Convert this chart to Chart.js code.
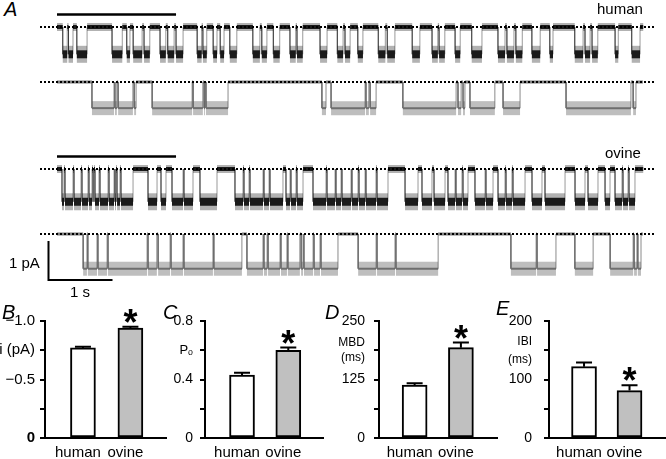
<!DOCTYPE html>
<html>
<head>
<meta charset="utf-8">
<title>Single-channel recordings: human vs ovine</title>
<script src="https://cdn.jsdelivr.net/npm/chart.js@4.4.1/dist/chart.umd.min.js"></script>
<style>
  html, body { margin:0; padding:0; background:#fff; }
  body { position:relative; width:666px; height:459px; overflow:hidden; font-family:'Liberation Sans', Arial, sans-serif; color:#000; }
  canvas { position:absolute; }
  .t { position:absolute; white-space:nowrap; font-size:15px; line-height:15px; }
  .p { position:absolute; font-style:italic; font-size:20px; line-height:20px; }
</style>
</head>
<body>
<canvas id="hSlow" width="616" height="70" style="left:40px;top:7px"></canvas>
<canvas id="hFast" width="616" height="70" style="left:40px;top:62px"></canvas>
<canvas id="oSlow" width="616" height="140" style="left:40px;top:149px"></canvas>
<canvas id="oFast" width="616" height="70" style="left:40px;top:214px"></canvas>
<canvas id="barB" width="170" height="159" style="left:0px;top:300px"></canvas>
<canvas id="barC" width="170" height="159" style="left:160px;top:300px"></canvas>
<canvas id="barD" width="170" height="159" style="left:330px;top:300px"></canvas>
<canvas id="barE" width="170" height="159" style="left:496px;top:300px"></canvas>

<div class="p" style="left:4px;top:-1px">A</div>
<div class="p" style="left:2px;top:302px">B</div>
<div class="p" style="left:163px;top:302px">C</div>
<div class="p" style="left:325px;top:302px">D</div>
<div class="p" style="left:496px;top:298px">E</div>
<div class="t" style="left:597px;top:1px">human</div>
<div class="t" style="left:605px;top:145px">ovine</div>
<div class="t" style="left:9px;top:255px">1 pA</div>
<div class="t" style="left:70px;top:284px">1 s</div>

<script>
// ---------------- DATA ----------------
const traceNames = ['human', 'ovine'];

// Open intervals [start, end] in seconds; channel closed elsewhere.
// Slow (compressed) traces, 9.16 s each
const slowDuration = 9.16;
const humanSlowOpen = [[0.09,0.16],[0.18,0.25],[0.31,0.47],[0.86,1.02],[1.09,1.14],[1.19,1.33],[1.36,1.45],
  [1.61,1.70],[1.73,1.83],[1.86,1.97],[2.19,2.26],[2.28,2.34],[2.44,2.50],[2.55,2.61],[2.70,2.81],
  [3.06,3.17],[3.20,3.28],[3.38,3.48],[3.64,3.73],[3.75,3.84],[4.11,4.22],[4.38,4.47],[4.50,4.58],
  [4.70,4.78],[5.02,5.13],[5.16,5.28],[5.55,5.67],[5.86,5.95],[5.97,6.06],[6.22,6.30],[6.48,6.64],
  [6.89,7.00],[7.03,7.14],[7.17,7.27],[7.42,7.55],[7.70,7.75],[8.09,8.22],[8.25,8.33],[8.36,8.45],
  [8.72,8.77],[8.98,9.11]];
const ovineSlowOpen = [[0.078,0.109],[0.125,0.25],[0.266,0.375],[0.391,0.484],[0.5,0.547],[0.563,0.578],
  [0.594,0.656],[0.672,0.797],[0.813,0.891],[0.906,0.922],[0.938,0.984],[1.0,1.188],[1.422,1.563],
  [1.625,1.703],[1.797,1.969],[1.984,2.125],[2.234,2.5],[2.781,2.906],[2.922,3.0],[3.016,3.219],
  [3.234,3.313],[3.328,3.531],[3.578,3.641],[3.656,3.734],[3.75,3.844],[4.0,4.203],[4.219,4.344],
  [4.359,4.438],[4.453,4.594],[4.609,4.703],[4.719,4.813],[4.828,4.984],[5.0,5.172],[5.438,5.641],
  [5.703,5.859],[5.891,6.063],[6.109,6.219],[6.234,6.328],[6.344,6.422],[6.531,6.688],[6.703,6.813],
  [6.891,7.0],[7.016,7.109],[7.125,7.313],[7.422,7.578],[7.625,7.938],[8.094,8.25],[8.297,8.453],
  [8.563,8.641],[8.719,8.828],[8.844,8.922],[8.938,9.031]];

// Fast (expanded) traces, 1.86 s each (the segment under the bar)
const fastDuration = 1.86;
const humanFastOpen = [[0.111,0.181],[0.184,0.190],[0.194,0.241],[0.245,0.251],[0.302,0.429],[0.432,0.463],
  [0.467,0.470],[0.473,0.543],[0.841,0.854],[0.870,0.978],[0.981,0.990],[0.994,1.013],[1.098,1.267],
  [1.273,1.283],[1.289,1.295],[1.311,1.390],[1.416,1.470],[1.616,1.822],[1.829,1.838]];
const ovineFastOpen = [[0.083,0.095],[0.098,0.127],[0.130,0.159],[0.162,0.286],[0.289,0.317],[0.321,0.359],
  [0.362,0.400],[0.403,0.495],[0.498,0.587],[0.603,0.654],[0.657,0.667],[0.670,0.708],[0.711,0.730],
  [0.733,0.771],[0.775,0.781],[0.784,0.813],[0.816,0.835],[0.838,0.892],[0.956,1.013],[1.016,1.073],
  [1.076,1.210],[1.441,1.521],[1.524,1.584],[1.644,1.702],[1.756,1.829],[1.832,1.841],[1.844,1.854]];

// Open-level current (pA): [slow trace, fast trace]
const humanAmp = [-0.70, -0.67];
const ovineAmp = [-0.84, -0.89];

// Scale bar values
const scaleBarCurrent = 1;   // pA
const scaleBarTime = 1;      // s

// Bar panels
const barCategories = ['human', 'ovine'];
const sig = [false, true];
const iValues = [-0.77, -0.94];  const iErr = [0.01, 0.01];
const poValues = [0.43, 0.60];   const poErr = [0.017, 0.018];
const mbdValues = [113, 193];    const mbdErr = [4, 11];
const ibiValues = [122, 81];     const ibiErr = [7, 9];

// ---------------- LAYOUT ----------------
Chart.defaults.font.family = "'Liberation Sans', Arial, Helvetica, sans-serif";
Chart.defaults.font.size = 14;
Chart.defaults.color = '#000';
Chart.defaults.animation = false;

const PX_PER_PA = 39;        // vertical scale of traces
const SLOW_PX_PER_S = 64;
const FAST_PX_PER_S = 315;
const LEAD_PX = 20;          // closed level sits 20 px below canvas top
const LEFT_PAD_PX = 17;      // dotted line starts 17 px before trace start
const MARK_OFFSET_PX = 12.5; // bar above slow trace

const blackLook = { v:'rgba(0,0,0,0.4)', coreO:8, coreC:4, core:'#1a1a1a', haloO:17, haloC:8, halo:'rgba(0,0,0,0.3)' };
const greyLook  = { v:'rgba(90,90,90,0.7)', coreO:2, coreC:1.5, core:'#6e6e6e', haloO:14, haloC:4, halo:'rgba(100,100,100,0.42)' };

function buildTrace(open, amp, duration) {
  const pts = [{x:0, y:0}];
  for (const [a, b] of open) {
    pts.push({x:a, y:0}, {x:a, y:amp}, {x:b, y:amp}, {x:b, y:0});
  }
  pts.push({x:duration, y:0});
  return pts;
}

function drawTrace(id, open, amp, duration, pxPerS, look, extra) {
  const canvas = document.getElementById(id);
  const yMax = LEAD_PX / PX_PER_PA;
  const yMin = yMax - canvas.height / PX_PER_PA;
  const xMin = -LEFT_PAD_PX / pxPerS;
  const xMax = xMin + canvas.width / pxPerS;
  const pts = buildTrace(open, amp, duration);
  const vert = c => c.p0.parsed.x === c.p1.parsed.x;
  const isOpen = c => c.p0.parsed.y !== 0;
  const seg = (v, o, cl) => c => vert(c) ? v : (isOpen(c) ? o : cl);
  const datasets = [
    { data:[{x:xMin,y:0},{x:xMax,y:0}], borderColor:'#000', borderWidth:2, borderDash:[2,2] },
    { data:pts, borderColor:look.core, borderWidth:1,
      segment:{ borderWidth: seg(1, look.coreO, look.coreC), borderColor: seg(look.v, look.core, look.core) } },
    { data:pts, borderColor:look.halo, borderWidth:1,
      segment:{ borderWidth: seg(1, look.haloO, look.haloC), borderColor: seg('rgba(0,0,0,0)', look.halo, look.halo) } }
  ];
  (extra || []).forEach(d => datasets.push(d));
  datasets.forEach(d => { d.pointRadius = 0; d.borderCapStyle = 'butt'; d.borderJoinStyle = 'miter'; d.fill = false; });
  new Chart(canvas, {
    type:'line',
    data:{ datasets },
    options:{
      responsive:false, animation:false, events:[],
      layout:{ padding:0 },
      plugins:{ legend:{display:false}, tooltip:{enabled:false} },
      scales:{
        x:{ type:'linear', display:false, min:xMin, max:xMax },
        y:{ type:'linear', display:false, min:yMin, max:yMax }
      }
    }
  });
}

const markY = MARK_OFFSET_PX / PX_PER_PA;
const markDs = () => ({ data:[{x:0,y:markY},{x:fastDuration,y:markY}], borderColor:'#000', borderWidth:2.5 });
const sbX = -8.5 / SLOW_PX_PER_S, sbY = -111 / PX_PER_PA;
const scaleBarDs = { data:[{x:sbX,y:sbY+scaleBarCurrent},{x:sbX,y:sbY},{x:sbX+scaleBarTime,y:sbY}], borderColor:'#000', borderWidth:2 };

drawTrace('hSlow', humanSlowOpen, humanAmp[0], slowDuration, SLOW_PX_PER_S, blackLook, [markDs()]);
drawTrace('hFast', humanFastOpen, humanAmp[1], fastDuration, FAST_PX_PER_S, greyLook);
drawTrace('oSlow', ovineSlowOpen, ovineAmp[0], slowDuration, SLOW_PX_PER_S, blackLook, [markDs(), scaleBarDs]);
drawTrace('oFast', ovineFastOpen, ovineAmp[1], fastDuration, FAST_PX_PER_S, greyLook);

// ---------------- BAR PANELS ----------------
const BAR_FILLS = ['#ffffff', '#c0c0c0'];
const errorBarsPlugin = {
  id:'errorBars',
  afterDatasetsDraw(chart) {
    const ds = chart.data.datasets[0];
    const meta = chart.getDatasetMeta(0);
    const ys = chart.scales.y;
    const ctx = chart.ctx;
    ctx.save();
    ctx.strokeStyle = '#000'; ctx.fillStyle = '#000'; ctx.lineWidth = 2; ctx.lineCap = 'butt';
    meta.data.forEach((bar, i) => {
      const v = ds.data[i].y, e = ds.errors[i];
      const yBar = ys.getPixelForValue(v);
      const yTop = ys.getPixelForValue(v + Math.sign(v) * e);
      ctx.beginPath();
      ctx.moveTo(bar.x, yBar); ctx.lineTo(bar.x, yTop);
      ctx.moveTo(bar.x - 8, yTop); ctx.lineTo(bar.x + 8, yTop);
      ctx.stroke();
      if (ds.sig[i]) {
        ctx.font = "bold 36px 'Liberation Sans', Arial, sans-serif";
        ctx.textAlign = 'center'; ctx.textBaseline = 'alphabetic';
        const m = ctx.measureText('*');
        const cy = yTop - 11;
        ctx.fillText('*', bar.x, cy + (m.actualBoundingBoxAscent - m.actualBoundingBoxDescent) / 2);
      }
    });
    ctx.restore();
  }
};

const near = (a, b) => Math.abs(a - b) < 1e-6;

function drawBars(id, p) {
  new Chart(document.getElementById(id), {
    type:'bar',
    data:{ datasets:[{
      data: p.values.map((v, i) => ({x:i + 1, y:v})),
      errors: p.errors, sig: sig,
      backgroundColor: BAR_FILLS, borderColor:'#000', borderWidth:2, borderSkipped:false, barThickness:25
    }]},
    options:{
      responsive:false, animation:false, events:[],
      layout:{ padding:{ top:21, right:p.padRight, left:0, bottom:0 } },
      plugins:{ legend:{display:false}, tooltip:{enabled:false} },
      scales:{
        x:{ type:'linear', min:p.xMin, max:p.xMax, offset:false,
            grid:{ display:false, drawTicks:false, offset:false },
            border:{ display:true, color:'#000', width:2 },
            afterBuildTicks: s => { s.ticks = barCategories.map((c, i) => ({ value:i + 1 })); },
            ticks:{ callback:(v, i) => barCategories[i], font:{ size:15 }, color:'#000', padding:6,
                    labelOffset:-5, maxRotation:0, autoSkip:false },
            afterFit: s => { s.height = 21; } },
        y:{ type:'linear', min:p.min, max:p.max, reverse:!!p.reverse,
            afterFit: s => { s.width = p.axisW; },
            grid:{ display:true, drawOnChartArea:false, drawTicks:true, tickLength:5, color:'#000', lineWidth:2 },
            border:{ display:true, color:'#000', width:2 },
            ticks:{ stepSize:p.step, autoSkip:false, color:'#000', padding:p.pad,
                    callback: v => p.label(v),
                    font: ctx => p.font(ctx.tick ? ctx.tick.value : NaN) } }
      }
    },
    plugins:[errorBarsPlugin]
  });
}

drawBars('barB', { values:iValues, errors:iErr, min:-1, max:0, reverse:true, step:0.25, axisW:45, padRight:4, pad:5,
  xMin:0.2, xMax:2.75,
  label: v => near(v,-1) ? '\u22121.0' : near(v,-0.75) ? 'i (pA)' : near(v,-0.5) ? '\u22120.5' : near(v,0) ? '0' : '',
  font: v => near(v,0) ? {size:15, weight:'bold'} : {size:15} });
drawBars('barC', { values:poValues, errors:poErr, min:0, max:0.8, step:0.2, axisW:45, padRight:7, pad:7,
  xMin:0.2, xMax:2.75,
  label: v => near(v,0.8) ? '0.8' : near(v,0.6) ? 'P\u2092' : near(v,0.4) ? '0.4' : near(v,0) ? '0' : '',
  font: v => near(v,0.6) ? {size:13} : {size:14} });
drawBars('barD', { values:mbdValues, errors:mbdErr, min:0, max:250, step:62.5, axisW:49, padRight:3, pad:9,
  xMin:0.23, xMax:2.78,
  label: v => near(v,250) ? '250' : near(v,187.5) ? ['MBD','(ms)'] : near(v,125) ? '125' : near(v,0) ? '0' : '',
  font: v => near(v,187.5) ? {size:12, lineHeight:1.2} : {size:14} });
drawBars('barE', { values:ibiValues, errors:ibiErr, min:0, max:200, step:50, axisW:53, padRight:1, pad:12,
  xMin:0.23, xMax:2.78,
  label: v => near(v,200) ? '200' : near(v,150) ? ['IBI','(ms)'] : near(v,100) ? '100' : near(v,0) ? '0' : '',
  font: v => near(v,150) ? {size:12, lineHeight:1.5} : {size:14} });
</script>
</body>
</html>
